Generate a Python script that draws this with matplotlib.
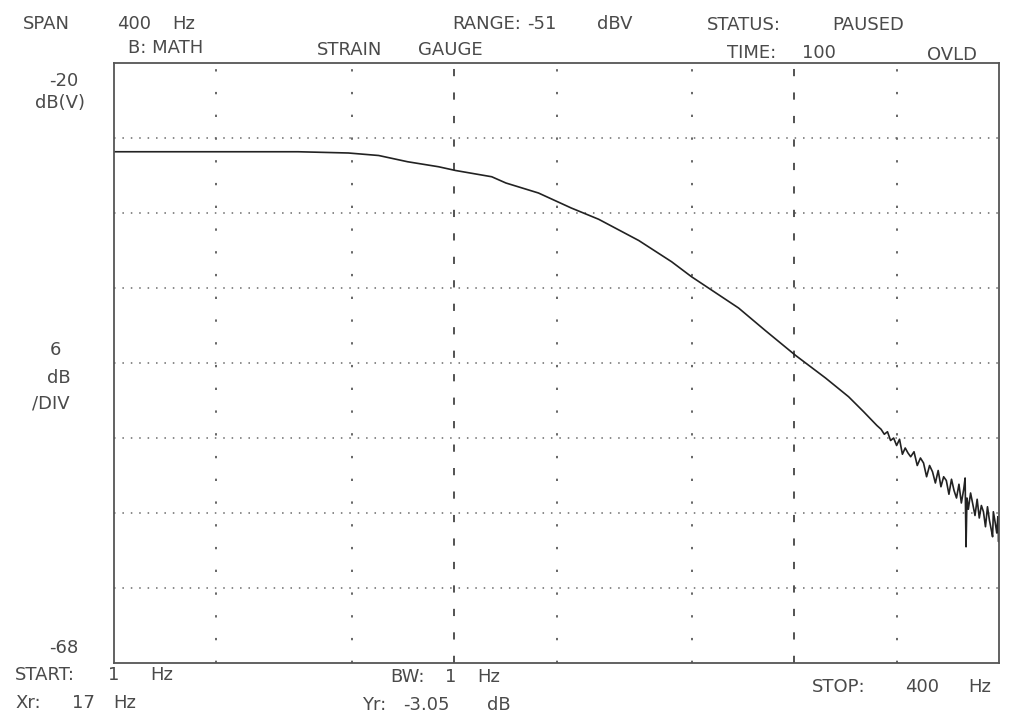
import numpy as np
import matplotlib.pyplot as plt

# Smooth part of the trace (frequency in Hz, level in dBV)
freq_hz = [1.0, 1.77, 3.48, 4.89, 6.0, 7.3, 9.0, 10.1, 12.9, 14.2, 17.7, 22.1,
           26.6, 34.9, 43.6, 49.9, 68.6, 82.2, 101, 123.6, 144.5, 160, 175]
level_db = [-27.1, -27.1, -27.1, -27.2, -27.4, -27.9, -28.3, -28.6, -29.1, -29.6,
            -30.4, -31.6, -32.5, -34.2, -35.9, -37.1, -39.6, -41.4, -43.4, -45.2,
            -46.7, -47.9, -49.0]

# Noisy tail above ~180 Hz
tail_hz = [180, 184, 188, 192, 196, 200, 204, 208, 212, 216, 220, 225, 230, 235,
           240, 245, 250, 255, 260, 265, 270, 275, 280, 285, 290, 295, 300, 305,
           310, 315, 318, 320, 322, 325, 330, 335, 340, 345, 350, 355, 360, 365,
           370, 375, 380, 383, 385, 390, 394, 397, 399, 400]
tail_db = [-49.3, -49.7, -49.5, -50.2, -50.0, -50.6, -50.1, -51.3, -50.8, -51.2,
           -51.5, -51.1, -52.2, -51.6, -52.0, -53.1, -52.2, -52.7, -53.6, -52.6,
           -53.9, -53.1, -53.4, -54.5, -53.3, -54.2, -54.8, -53.7, -55.2, -54.1,
           -53.2, -58.7, -54.8, -55.7, -54.4, -55.3, -56.2, -54.9, -56.4, -55.4,
           -55.9, -57.1, -55.5, -56.6, -57.4, -57.9, -55.9, -56.8, -57.6, -56.3,
           -58.3, -57.2]

y_top, y_bottom, db_per_div = -20, -68, 6
minor_lines = [2, 5, 20, 50, 200]
major_lines = [10, 100]

W, H = 1013, 719
fig = plt.figure(figsize=(W / 100, H / 100), dpi=100)
ax = fig.add_axes([114 / W, 1 - 663 / H, 885 / W, 600 / H])

ax.set_xscale('log')
ax.set_xlim(1, 400)
ax.set_ylim(y_bottom, y_top)
ax.set_xticks([])
ax.set_yticks([])
ax.minorticks_off()

# grid
for lev in np.arange(y_top - db_per_div, y_bottom, -db_per_div):
    ax.axhline(lev, color='#6a6a6a', lw=1.1, ls=(0, (1, 4.5)))
for f in minor_lines:
    ax.axvline(f, color='#666666', lw=1.4, ls=(0, (1.2, 10.5)))
for f in major_lines:
    ax.axvline(f, color='#444444', lw=1.3, ls=(0, (4, 9)))

for s in ax.spines.values():
    s.set_color('#555555')
    s.set_linewidth(1.3)

ax.plot(freq_hz + tail_hz, level_db + tail_db, color='#222222', lw=1.2)

# printer text
def label(x, y, s, ha='left'):
    fig.text(x / W, 1 - y / H, s, ha=ha, va='center', fontsize=13,
             color='#4a4a4a', family='DejaVu Sans')

label(23, 24, 'SPAN')
label(117, 24, '400')
label(172, 24, 'Hz')
label(452, 24, 'RANGE:')
label(527, 24, '-51')
label(597, 24, 'dBV')
label(707, 25, 'STATUS:')
label(832, 25, 'PAUSED')
label(128, 48, 'B: MATH')
label(317, 50, 'STRAIN')
label(418, 50, 'GAUGE')
label(727, 53, 'TIME:')
label(802, 53, '100')
label(927, 55, 'OVLD')
label(78, 81, '-20', ha='right')
label(35, 103, 'dB(V)')
label(50, 350, '6')
label(47, 378, 'dB')
label(32, 403, '/DIV')
label(78, 648, '-68', ha='right')
label(15, 675, 'START:')
label(108, 675, '1')
label(150, 675, 'Hz')
label(15, 703, 'Xr:')
label(72, 703, '17')
label(113, 703, 'Hz')
label(390, 677, 'BW:')
label(445, 677, '1')
label(477, 677, 'Hz')
label(362, 705, 'Yr:')
label(403, 705, '-3.05')
label(487, 705, 'dB')
label(812, 687, 'STOP:')
label(905, 687, '400')
label(968, 687, 'Hz')

fig.savefig('out.png', dpi=100, facecolor='white')
